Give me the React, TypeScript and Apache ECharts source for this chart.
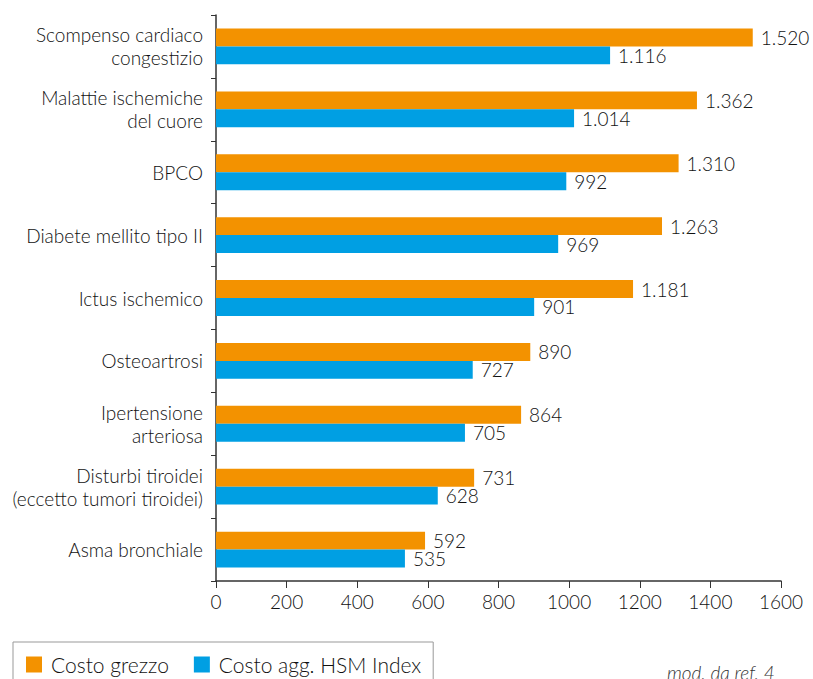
import React, { useEffect, useRef } from "react";
import * as echarts from "echarts";

const categories = [
  "Scompenso cardiaco\ncongestizio",
  "Malattie ischemiche\ndel cuore",
  "BPCO",
  "Diabete mellito tipo II",
  "Ictus ischemico",
  "Osteoartrosi",
  "Ipertensione\narteriosa",
  "Disturbi tiroidei\n(eccetto tumori tiroidei)",
  "Asma bronchiale",
];
const costoGrezzo = [1520, 1362, 1310, 1263, 1181, 890, 864, 731, 592];
const costoAgg = [1116, 1014, 992, 969, 901, 727, 705, 628, 535];
const seriesNames = ["Costo grezzo", "Costo agg. HSM Index"];
const xTicks = { min: 0, max: 1600, interval: 200 };

const fmt = (v: number) => v.toLocaleString("it-IT");
const FONT = "Lato";
const FW = 300;
const TXT = "#111";

export default function App() {
  const ref = useRef<HTMLDivElement>(null);
  useEffect(() => {
    document.body.style.margin = "0";
    const chart = echarts.init(ref.current!, null, { renderer: "svg" });
    const labelCfg = {
      show: true,
      position: "right",
      distance: 8,
      color: TXT,
      fontFamily: FONT,
      fontWeight: FW,
      fontSize: 19,
      formatter: (p: any) => fmt(p.value),
    };
    chart.setOption({
      animation: false,
      textStyle: { fontFamily: FONT },
      grid: { left: 216, right: 32, top: 15, bottom: 98, containLabel: false },
      xAxis: {
        type: "value",
        min: xTicks.min,
        max: xTicks.max,
        interval: xTicks.interval,
        splitLine: { show: false },
        axisLine: { show: true, lineStyle: { color: "#333", width: 1.5 } },
        axisTick: { show: true, length: 7, lineStyle: { color: "#333" } },
        axisLabel: {
          color: TXT,
          fontSize: 19,
          fontFamily: FONT,
          fontWeight: FW,
          margin: 11,
          formatter: (v: number) => String(v),
        },
      },
      yAxis: {
        type: "category",
        data: categories,
        inverse: true,
        axisLine: { show: true, lineStyle: { color: "#333", width: 1.5 } },
        axisTick: { show: true, length: 5, lineStyle: { color: "#333" } },
        axisLabel: {
          color: TXT,
          fontSize: 19,
          fontFamily: FONT,
          fontWeight: FW,
          margin: 13,
          align: "right",
          lineHeight: 23,
        },
      },
      legend: {
        left: 13,
        top: 642,
        data: seriesNames,
        orient: "horizontal",
        borderColor: "#999",
        borderWidth: 1,
        padding: [12, 12, 14, 13],
        itemGap: 25,
        itemWidth: 16,
        itemHeight: 16,
        icon: "rect",
        textStyle: {
          color: TXT,
          fontSize: 21,
          fontFamily: FONT,
          fontWeight: FW,
          padding: [0, 0, 0, 4],
        },
      },
      graphic: [
        {
          type: "text",
          left: 667,
          top: 663,
          style: {
            text: "mod. da ref. 4",
            fontFamily: FONT,
            fontWeight: FW,
            fontStyle: "italic",
            fontSize: 19,
            fill: "#333",
          },
        },
      ],
      series: [
        {
          name: seriesNames[0],
          type: "bar",
          data: costoGrezzo,
          itemStyle: { color: "#F39200" },
          barGap: "0%",
          barCategoryGap: "43%",
          label: labelCfg,
        },
        {
          name: seriesNames[1],
          type: "bar",
          data: costoAgg,
          itemStyle: { color: "#009FE3" },
          barGap: "0%",
          barCategoryGap: "43%",
          label: labelCfg,
        },
      ],
    });
    return () => chart.dispose();
  }, []);
  return <div ref={ref} style={{ width: 813, height: 679 }} />;
}
